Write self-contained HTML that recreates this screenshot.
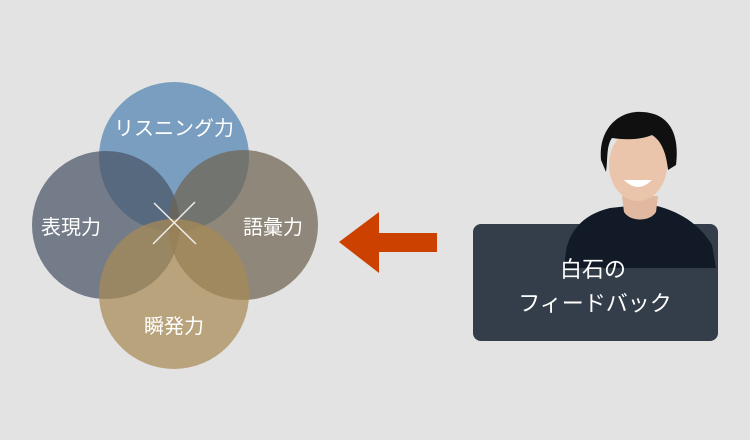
<!DOCTYPE html>
<html><head><meta charset="utf-8"><style>
html,body{margin:0;padding:0;background:#e3e3e3;}
svg{display:block}
text{font-family:"Liberation Sans","Noto Sans CJK JP",sans-serif;fill:#fff;}
</style></head><body>
<svg width="750" height="440" viewBox="0 0 750 440" xmlns="http://www.w3.org/2000/svg">
<rect width="750" height="440" fill="#e3e3e3"/>
<g opacity="0.85">
</g>
<circle cx="174" cy="157" r="75" fill="#6792b9" fill-opacity="0.85"/>
<circle cx="106" cy="225" r="74" fill="#4a5466" fill-opacity="0.72"/>
<circle cx="243" cy="225" r="75" fill="#6f6452" fill-opacity="0.72"/>
<circle cx="174" cy="294" r="75" fill="#a88a55" fill-opacity="0.72"/>
<line x1="154" y1="203" x2="196" y2="244" stroke="#eee" stroke-width="1.5"/>
<line x1="153" y1="244" x2="195" y2="202" stroke="#eee" stroke-width="1.5"/>
<text x="174" y="135" font-size="20" text-anchor="middle">リスニング力</text>
<text x="71" y="234" font-size="20" text-anchor="middle">表現力</text>
<text x="273" y="234" font-size="20" text-anchor="middle">語彙力</text>
<text x="174" y="333" font-size="20" text-anchor="middle">瞬発力</text>
<polygon points="339,242 379,212 379,233 437,233 437,252 379,252 379,273" fill="#cc4000"/>
<rect x="473" y="224" width="245" height="117" rx="8" fill="#343e4a"/>
<!-- person -->
<path d="M565,260 C566,235 580,215 610,208 L648,204 C680,210 700,225 712,245 L716,268 L565,268 Z" fill="#121a28"/>
<path d="M622,196 L624,212 C630,222 650,222 656,212 L658,196 Z" fill="#e0b9a0"/>
<ellipse cx="638" cy="165" rx="29" ry="36" fill="#eac5ab"/>
<path d="M601,160 C598,128 620,110 642,112 C668,113 680,132 676,165 L668,170 C666,150 660,140 652,135 C640,140 625,140 612,138 C606,146 608,160 606,172 Z" fill="#101010"/>
<path d="M624,180 Q638,194 652,180 Z" fill="#fff"/>
<text x="593" y="277" font-size="22" text-anchor="middle">白石の</text>
<text x="595" y="311" font-size="22" text-anchor="middle">フィードバック</text>
</svg>
</body></html>
